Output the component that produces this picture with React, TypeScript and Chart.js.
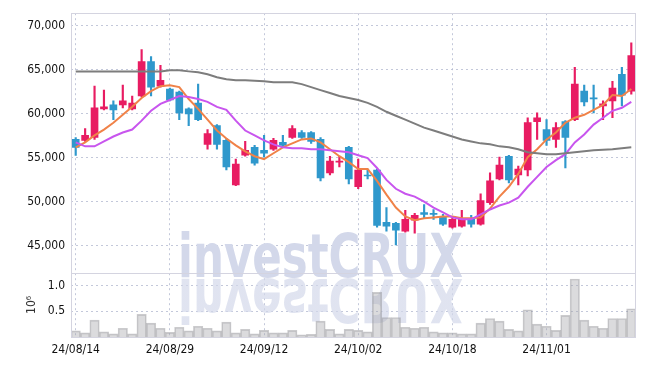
import React, { useEffect, useRef } from 'react';
import { Chart, registerables } from 'chart.js';

Chart.register(...registerables);

const dates = [
  '24/08/14', '24/08/16', '24/08/19', '24/08/20', '24/08/21', '24/08/22', '24/08/23', '24/08/26', '24/08/27', '24/08/28',
  '24/08/29', '24/08/30', '24/09/02', '24/09/03', '24/09/04', '24/09/05', '24/09/06', '24/09/09', '24/09/10', '24/09/11',
  '24/09/12', '24/09/13', '24/09/19', '24/09/20', '24/09/23', '24/09/24', '24/09/25', '24/09/26', '24/09/27', '24/09/30',
  '24/10/02', '24/10/04', '24/10/07', '24/10/08', '24/10/10', '24/10/11', '24/10/14', '24/10/15', '24/10/16', '24/10/17',
  '24/10/18', '24/10/21', '24/10/22', '24/10/23', '24/10/24', '24/10/25', '24/10/28', '24/10/29', '24/10/30', '24/10/31',
  '24/11/01', '24/11/04', '24/11/05', '24/11/06', '24/11/07', '24/11/08', '24/11/11', '24/11/12', '24/11/13', '24/11/14',
];

const openPrices = [
  57110, 57000, 57330, 60580, 61030, 61030, 60580, 62040, 65960, 63160,
  62830, 62490, 60580, 61250, 56550, 58680, 57000, 51950, 55310, 56210,
  55870, 55990, 56770, 57330, 57890, 57890, 57110, 53300, 54530, 56210,
  51730, 53070, 53630, 47690, 47580, 46680, 47920, 48810, 48700, 48250,
  47130, 47240, 48030, 47470, 49930, 52620, 55200, 53070, 53630, 59130,
  58230, 57110, 59130, 59350, 62600, 61820, 60920, 61480, 64510, 62600,
];
const highPrices = [
  57330, 58340, 63160, 62710, 61480, 63270, 62040, 67310, 66520, 65520,
  62930, 62600, 60700, 63390, 58230, 58790, 57220, 54870, 56880, 56430,
  57560, 57220, 57560, 58680, 58120, 58010, 57330, 55200, 55200, 56320,
  54870, 53740, 53740, 49370, 47690, 49040, 48700, 49710, 49150, 48590,
  48140, 49040, 48480, 50940, 53300, 55090, 55310, 54080, 59570, 60130,
  59350, 59010, 59240, 65290, 63270, 63270, 61480, 63720, 65290, 68090,
];
const lowPrices = [
  55300, 56880, 57110, 60470, 59350, 60700, 60470, 61930, 62040, 63050,
  61480, 59350, 58680, 59240, 55990, 55990, 53630, 51840, 55200, 54190,
  55090, 55870, 56210, 57220, 57220, 56660, 52400, 53070, 53970, 52060,
  51500, 52620, 47130, 46680, 45110, 46570, 46460, 48140, 48030, 47350,
  47020, 47130, 47130, 47360, 49710, 52510, 52170, 51950, 52960, 57110,
  56430, 56210, 53860, 59240, 60920, 60130, 59350, 59570, 60920, 62260,
];
const closePrices = [
  56210, 57560, 60700, 60800, 60470, 61480, 61250, 65960, 63050, 63830,
  61590, 60130, 60020, 59350, 57780, 56550, 53970, 54300, 55870, 54420,
  55540, 57000, 56430, 58340, 57330, 56880, 52740, 54640, 54640, 52620,
  53630, 52960, 47350, 47240, 46790, 48030, 48480, 48590, 48590, 47470,
  48030, 48030, 47470, 50160, 52400, 54190, 52510, 53740, 59010, 59570,
  57000, 58450, 57330, 63390, 61370, 61700, 61140, 62940, 62150, 66630,
];
// volume in units of 10^6
const volumes = [
  0.12, 0.08, 0.33, 0.10, 0.06, 0.17, 0.06, 0.44, 0.27, 0.17,
  0.09, 0.19, 0.12, 0.21, 0.17, 0.12, 0.29, 0.08, 0.15, 0.06,
  0.13, 0.08, 0.08, 0.13, 0.04, 0.05, 0.31, 0.15, 0.06, 0.15,
  0.13, 0.10, 0.87, 0.38, 0.38, 0.19, 0.17, 0.19, 0.10, 0.08,
  0.08, 0.06, 0.06, 0.27, 0.36, 0.31, 0.15, 0.12, 0.53, 0.25,
  0.21, 0.13, 0.42, 1.13, 0.33, 0.21, 0.17, 0.36, 0.36, 0.55,
];
const maShort = [
  56210, 56770, 57560, 58230, 59010, 59910, 60810, 61820, 62600, 63160,
  63270, 63050, 61700, 60580, 59350, 58120, 57220, 56440, 55760, 55200,
  54870, 55540, 56210, 56660, 57110, 57220, 56770, 55990, 55200, 54530,
  53750, 53750, 52400, 50830, 49370, 48360, 47920, 48140, 48250, 48360,
  48360, 48140, 48140, 48250, 49260, 50610, 51730, 53190, 55090, 55990,
  57110, 57890, 59010, 59570, 59910, 60470, 61030, 62150, 62040, 62830,
];
const maMid = [
  56770, 56320, 56320, 56880, 57440, 57890, 58230, 59240, 60360, 61140,
  61590, 62040, 61930, 61700, 61370, 60810, 60470, 59240, 58120, 57560,
  57000, 56550, 56210, 56100, 56100, 55990, 55990, 55880, 55760, 55650,
  55310, 54980, 53860, 52510, 51500, 50940, 50610, 50050, 49370, 48810,
  48250, 48030, 48030, 48590, 49150, 49600, 49930, 50500, 51730, 52850,
  53970, 54760, 55430, 56770, 57670, 58790, 59570, 60360, 60700, 61370,
];
const maLong = [
  64840, 64840, 64840, 64840, 64840, 64840, 64840, 64840, 64840, 64840,
  64960, 64960, 64840, 64730, 64510, 64170, 63950, 63830, 63830, 63780,
  63720, 63610, 63610, 63610, 63390, 63050, 62710, 62380, 62040, 61820,
  61590, 61260, 60810, 60250, 59800, 59350, 58900, 58450, 58120, 57780,
  57440, 57110, 56880, 56660, 56550, 56320, 56210, 55990, 55650, 55540,
  55430, 55430, 55540, 55650, 55760, 55870, 55930, 55990, 56100, 56210,
];

const priceTicks = [45000, 50000, 55000, 60000, 65000, 70000];
const volumeTicks = [0.5, 1.0];
const dateTicks = ['24/08/14', '24/08/29', '24/09/12', '24/10/02', '24/10/18', '24/11/01'];

const UP = 'rgb(232,28,98)';
const DOWN = 'rgb(47,152,204)';
const GRID = 'rgba(185,190,212,0.85)';
const FRAME = 'rgb(212,212,224)';
const LABEL_FONT = { family: '"DejaVu Sans Condensed", "DejaVu Sans", sans-serif', size: 12 };

const framePlugin = {
  id: 'frames',
  beforeDatasetsDraw(chart: any) {
    const { ctx, chartArea } = chart;
    ctx.save();
    ctx.beginPath();
    ctx.rect(chartArea.left, chartArea.top, chartArea.right - chartArea.left, chartArea.bottom - chartArea.top);
    ctx.clip();
    ctx.font = 'bold 60px "DejaVu Sans", sans-serif';
    ctx.textAlign = 'left';
    ctx.textBaseline = 'alphabetic';
    const text = 'investCRUX';
    const w = ctx.measureText(text).width;
    const targetW = 285;
    const sx = targetW / w;
    const left = 178;
    const base = 277;
    ctx.save();
    ctx.translate(left, base);
    ctx.scale(sx, 1);
    ctx.fillStyle = 'rgb(211,216,234)';
    ctx.fillText(text, 0, 0);
    ctx.restore();
    ctx.save();
    ctx.translate(left, base + 2);
    ctx.scale(sx, -1);
    const g = ctx.createLinearGradient(0, 0, 0, 44);
    g.addColorStop(0, 'rgba(211,216,234,0.7)');
    g.addColorStop(1, 'rgba(211,216,234,0.2)');
    ctx.fillStyle = g;
    ctx.fillText(text, 0, 0);
    ctx.restore();
    ctx.restore();
  },
  afterDatasetsDraw(chart: any) {
    const { ctx, chartArea, scales } = chart;
    const l = Math.round(chartArea.left) + 0.5;
    const r = Math.round(chartArea.right) - 0.5;
    ctx.save();
    ctx.strokeStyle = FRAME;
    ctx.lineWidth = 1;
    ctx.beginPath();
    const ys = [scales.y.top, scales.y.bottom, scales.v.bottom];
    ys.forEach((y: number) => {
      const yy = Math.round(y) + 0.5;
      ctx.moveTo(l, yy);
      ctx.lineTo(r, yy);
    });
    ctx.moveTo(l, Math.round(scales.y.top));
    ctx.lineTo(l, Math.round(scales.v.bottom) + 1);
    ctx.moveTo(r, Math.round(scales.y.top));
    ctx.lineTo(r, Math.round(scales.v.bottom) + 1);
    ctx.stroke();
    ctx.restore();
  },
};

export default function App() {
  const ref = useRef<HTMLCanvasElement | null>(null);

  useEffect(() => {
    document.body.style.margin = '0';
    const canvas = ref.current;
    if (!canvas) return;
    const colors = openPrices.map((o, i) => (closePrices[i] >= o ? UP : DOWN));

    const chart = new Chart(canvas, {
      type: 'bar',
      data: {
        labels: dates,
        datasets: [
          {
            type: 'line',
            label: 'MA long',
            data: maLong,
            borderColor: 'rgb(125,125,125)',
            borderWidth: 2,
            pointRadius: 0,
            tension: 0,
            yAxisID: 'y',
            order: 0,
          } as any,
          {
            type: 'line',
            label: 'MA mid',
            data: maMid,
            borderColor: 'rgb(200,85,238)',
            borderWidth: 2,
            pointRadius: 0,
            tension: 0,
            yAxisID: 'y',
            order: 0,
          } as any,
          {
            type: 'line',
            label: 'MA short',
            data: maShort,
            borderColor: 'rgb(240,130,72)',
            borderWidth: 2,
            pointRadius: 0,
            tension: 0,
            yAxisID: 'y',
            order: 0,
          } as any,
          {
            type: 'bar',
            label: 'body',
            data: openPrices.map((o, i) => [o, closePrices[i]]),
            backgroundColor: colors,
            borderWidth: 0,
            barThickness: 7,
            grouped: false,
            yAxisID: 'y',
            order: 1,
          } as any,
          {
            type: 'bar',
            label: 'wick',
            data: lowPrices.map((l, i) => [l, highPrices[i]]),
            backgroundColor: colors,
            borderWidth: 0,
            barThickness: 1.5,
            grouped: false,
            yAxisID: 'y',
            order: 2,
          } as any,
          {
            type: 'bar',
            label: 'volume',
            data: volumes,
            backgroundColor: 'rgba(165,165,170,0.4)',
            borderColor: 'rgba(140,140,145,0.45)',
            borderWidth: 1,
            categoryPercentage: 1,
            barPercentage: 1,
            grouped: false,
            yAxisID: 'v',
            order: 3,
          } as any,
        ],
      },
      options: {
        animation: false,
        responsive: false,
        maintainAspectRatio: false,
        layout: { padding: { top: 9, right: 9, left: 0, bottom: 0 } },
        plugins: { legend: { display: false }, tooltip: { enabled: false } },
        scales: {
          x: {
            type: 'category',
            offset: true,
            grid: { offset: false, color: GRID, drawTicks: false, lineWidth: 1 },
            border: { display: false, dash: [2, 3] },
            ticks: { autoSkip: false, maxRotation: 0, minRotation: 0, padding: 6, font: LABEL_FONT, color: '#111' },
            afterBuildTicks: (axis: any) => {
              axis.ticks = axis.ticks.filter((t: any) => dateTicks.includes(dates[t.value]));
            },
            afterFit: (s: any) => {
              s.height = 29;
            },
          },
          y: {
            type: 'linear',
            position: 'left',
            stack: 'panels',
            stackWeight: 263,
            weight: 2,
            min: 41950,
            max: 71450,
            grid: { color: GRID, drawTicks: false },
            border: { display: false, dash: [2, 3] },
            afterBuildTicks: (axis: any) => {
              axis.ticks = priceTicks.map((v) => ({ value: v }));
            },
            ticks: {
              padding: 6,
              font: LABEL_FONT,
              color: '#111',
              callback: (v: any) => Number(v).toLocaleString('en-US'),
            },
            afterFit: (s: any) => {
              s.width = 71;
            },
          },
          v: {
            type: 'linear',
            position: 'left',
            stack: 'panels',
            stackWeight: 65,
            weight: 1,
            min: 0,
            max: 1.25,
            grid: { color: GRID, drawTicks: false },
            border: { display: false, dash: [2, 3] },
            afterBuildTicks: (axis: any) => {
              axis.ticks = volumeTicks.map((v) => ({ value: v }));
            },
            ticks: {
              padding: 6,
              font: LABEL_FONT,
              color: '#111',
              callback: (v: any) => Number(v).toFixed(1),
            },
            title: {
              display: true,
              text: '10⁶',
              color: '#333',
              font: LABEL_FONT,
              padding: { top: 25, bottom: 0 },
            },
            afterFit: (s: any) => {
              s.width = 71;
            },
          },
        },
      } as any,
      plugins: [framePlugin],
    });
    return () => chart.destroy();
  }, []);

  return (
    <div style={{ width: 645, height: 366, background: '#fff' }}>
      <canvas ref={ref} width={645} height={366} style={{ display: 'block' }} />
    </div>
  );
}
